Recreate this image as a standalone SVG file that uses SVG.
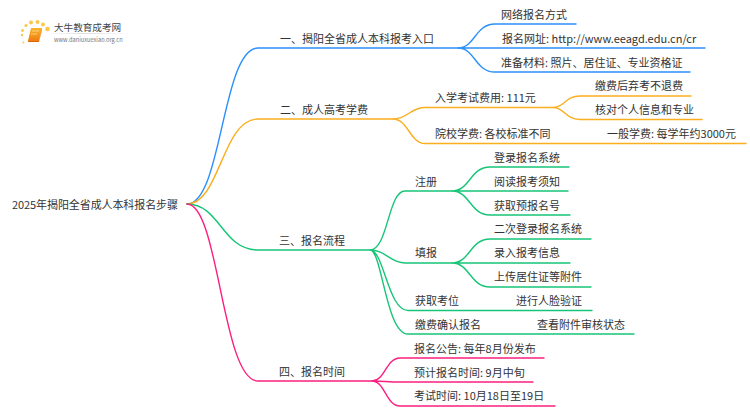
<svg xmlns="http://www.w3.org/2000/svg" width="750" height="410" viewBox="0 0 750 410">
<style>
text{font-family:"Noto Sans CJK SC","Liberation Sans",sans-serif;font-size:11px;fill:#333}
.c{fill:none;stroke-width:1.4;stroke-linecap:round}
.b{stroke:#2a90fb}.o{stroke:#fbae1f}.g{stroke:#17c578}.p{stroke:#fb1f7f}
</style>
<rect width="750" height="410" fill="#fff"/>
<g id="logo">
<defs><linearGradient id="lg" x1="0" y1="0" x2="0" y2="1"><stop offset="0" stop-color="#fbb52a"/><stop offset="1" stop-color="#ee7d10"/></linearGradient><linearGradient id="ln" x1="0" y1="0" x2="1" y2="0"><stop offset="0" stop-color="#ddd" stop-opacity="0"/><stop offset=".4" stop-color="#ddd"/><stop offset="1" stop-color="#ddd" stop-opacity="0"/></linearGradient></defs>
<g fill="#fbc84a"><circle cx="22" cy="35" r="1.200"/><circle cx="22.500" cy="30.500" r="1.400"/><circle cx="26" cy="25.500" r="1.600"/><circle cx="31" cy="22.500" r="2"/><circle cx="37.500" cy="22" r="2"/><circle cx="43" cy="24.500" r="2"/><circle cx="47.500" cy="29" r="2.300"/><circle cx="23.500" cy="42.500" r="1"/></g>
<path d="M31 28h11l-3 13h-11z" fill="url(#lg)"/><path d="M28 41h11l3-13v2l-3 12h-11z" fill="#d96a08"/><path d="M32 31h7M31 34h6" stroke="#ffe2a0" stroke-width=".7"/>
<text x="54" y="31" style="font-size:9.600px;fill:#444">大牛教育成考网</text>
<rect x="48" y="33" width="86" height="1" fill="url(#ln)"/>
<text x="54" y="41.500" style="font-size:5.700px;fill:#777">www.daniuxuexiao.org.cn</text>
</g>
<g id="connectors">
<path class="c b" d="M187 204C222 204 222 48 258 48H458"/>
<path class="c o" d="M187 204C220 204 222 119 258 119H393"/>
<path class="c g" d="M187 204C220 204 222 250 258 250H370"/>
<path class="c p" d="M187 204C219 204 222 381 258 381H372"/>
<path class="c b" d="M458 48C475 48 475 24 495 24H576M458 48H705M458 48C475 48 475 72 495 72H690"/>
<path class="c o" d="M393 119C408 119 410 107.500 425 107.500H553M393 119C408 119 410 143.500 425 143.500H746"/>
<path class="c o" d="M553 107.500C565 107.500 565 96 580 96H691M553 107.500C565 107.500 565 119.500 580 119.500H702"/>
<path class="c g" d="M370 250C388 250 388 191 405 191H452M370 250C386 250 390 263 405 263H452M370 250C384 250 388 310.500 408 310.500H592M370 250C382 250 386 334 408 334H634"/>
<path class="c g" d="M452 191C470 191 470 167 490 167H569M452 191H568M452 191C470 191 470 215 490 215H570M452 263C470 263 470 239 490 239H591M452 263H570M452 263C470 263 470 287 490 287H591"/>
<path class="c p" d="M372 381C385 381 386 358 400 358H544M372 381C385 381 386 382 400 382H533M372 381C385 381 386 406 400 406H555"/>
</g>
<g id="root"><text x="12" y="209" textLength="166">2025年揭阳全省成人本科报名步骤</text></g>
<g id="n1"><text x="280" y="43">一、揭阳全省成人本科报考入口</text></g>
<g id="n1a"><text x="501" y="19">网络报名方式</text></g>
<g id="n1b"><text x="502" y="43">报名网址: http://www.eeagd.edu.cn/cr</text></g>
<g id="n1c"><text x="501" y="67">准备材料: 照片、居住证、专业资格证</text></g>
<g id="n2"><text x="280" y="114">二、成人高考学费</text></g>
<g id="n2a"><text x="435" y="102">入学考试费用: 111元</text></g>
<g id="n2a1"><text x="595" y="90">缴费后弃考不退费</text></g>
<g id="n2a2"><text x="595" y="114">核对个人信息和专业</text></g>
<g id="n2b"><text x="435" y="138">院校学费: 各校标准不同</text></g>
<g id="n2b1"><text x="607" y="138">一般学费: 每学年约3000元</text></g>
<g id="n3"><text x="279" y="245">三、报名流程</text></g>
<g id="n3a"><text x="415" y="186">注册</text></g>
<g id="n3a1"><text x="494" y="162">登录报名系统</text></g>
<g id="n3a2"><text x="494" y="186">阅读报考须知</text></g>
<g id="n3a3"><text x="494" y="210">获取预报名号</text></g>
<g id="n3b"><text x="415" y="257">填报</text></g>
<g id="n3b1"><text x="494" y="233">二次登录报名系统</text></g>
<g id="n3b2"><text x="494" y="257">录入报考信息</text></g>
<g id="n3b3"><text x="494" y="281">上传居住证等附件</text></g>
<g id="n3c"><text x="415" y="305">获取考位</text></g>
<g id="n3c1"><text x="516" y="305">进行人脸验证</text></g>
<g id="n3d"><text x="415" y="329">缴费确认报名</text></g>
<g id="n3d1"><text x="537" y="329">查看附件审核状态</text></g>
<g id="n4"><text x="279" y="376">四、报名时间</text></g>
<g id="n4a"><text x="414" y="353">报名公告: 每年8月份发布</text></g>
<g id="n4b"><text x="414" y="377">预计报名时间: 9月中旬</text></g>
<g id="n4c"><text x="414" y="400">考试时间: 10月18日至19日</text></g>
</svg>
